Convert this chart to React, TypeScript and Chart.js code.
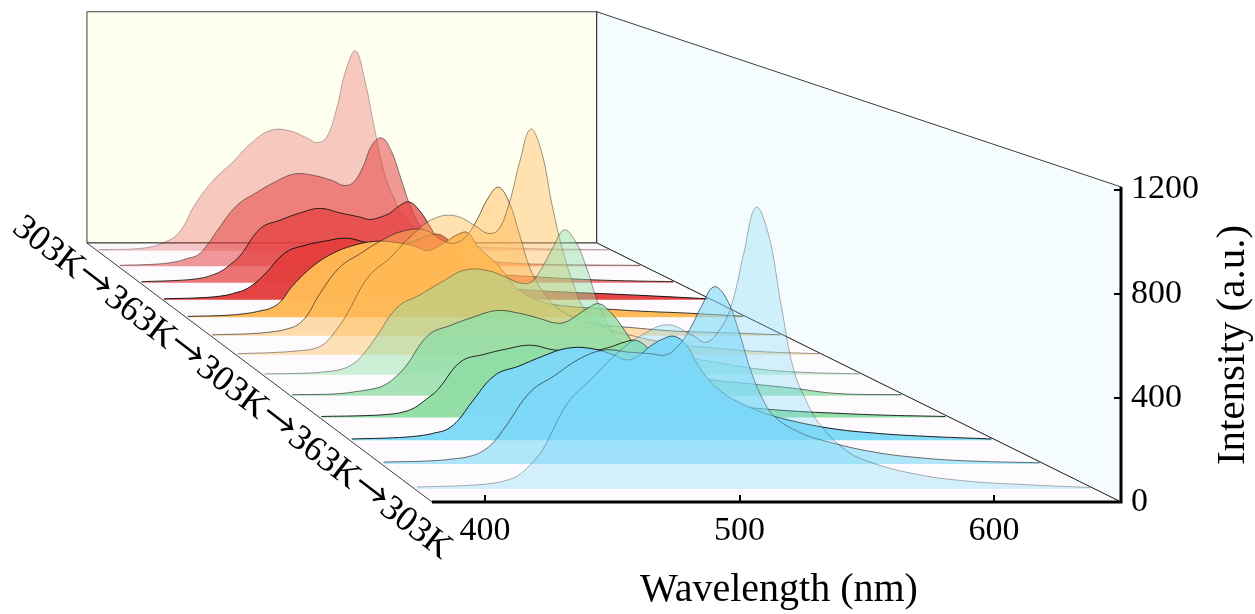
import React, { useEffect, useRef } from "react";
import { Chart, registerables } from "chart.js";

Chart.register(...registerables);

const wavelengths = [380, 400, 410, 415, 420, 425, 430, 440, 450, 460, 470, 480, 490, 495, 500, 505, 510, 515, 520, 525, 530, 535, 540, 550, 560, 580, 600, 620, 648];

const red1 = [5, 10, 25, 45, 70, 130, 225, 355, 445, 545, 610, 610, 570, 548, 580, 720, 920, 1015, 860, 620, 400, 270, 180, 80, 45, 20, 12, 8, 5];
const red2 = [5, 12, 25, 40, 55, 105, 175, 300, 365, 420, 460, 452, 425, 403, 415, 490, 605, 639, 570, 430, 290, 198, 145, 75, 40, 18, 10, 7, 5];
const red3 = [5, 12, 22, 35, 55, 90, 135, 265, 305, 340, 362, 340, 320, 308, 318, 338, 375, 393, 352, 280, 195, 130, 90, 55, 40, 28, 17, 10, 5];
const red4 = [4, 10, 20, 32, 48, 80, 125, 225, 260, 280, 293, 272, 262, 258, 268, 285, 305, 312, 285, 225, 160, 110, 80, 55, 45, 35, 27, 18, 4];
const orange1 = [4, 10, 20, 30, 42, 75, 140, 235, 298, 335, 354, 350, 330, 311, 325, 355, 385, 395, 330, 285, 240, 175, 125, 75, 55, 40, 28, 20, 5];
const orange2 = [4, 10, 20, 30, 48, 95, 180, 310, 375, 435, 477, 482, 428, 423, 455, 530, 625, 677, 610, 460, 305, 215, 150, 85, 55, 35, 20, 14, 4];
const orange3 = [5, 12, 20, 27, 50, 105, 175, 345, 430, 530, 605, 620, 572, 542, 556, 670, 860, 1006, 908, 665, 460, 310, 200, 120, 90, 50, 30, 15, 5];
const green1 = [4, 8, 16, 25, 48, 95, 160, 295, 348, 405, 455, 455, 420, 400, 403, 465, 555, 631, 583, 470, 320, 215, 150, 110, 90, 60, 28, 12, 4];
const green2 = [4, 8, 20, 28, 42, 75, 125, 258, 300, 335, 362, 350, 325, 310, 312, 340, 372, 391, 355, 295, 222, 160, 115, 90, 72, 52, 32, 9, 4];
const green3 = [4, 8, 14, 22, 40, 75, 115, 232, 262, 285, 300, 280, 277, 276, 282, 295, 312, 320, 290, 230, 165, 115, 85, 60, 45, 28, 18, 10, 4];
const blue1 = [5, 11, 20, 30, 44, 85, 150, 263, 300, 340, 372, 372, 345, 325, 340, 380, 408, 421, 388, 305, 240, 195, 165, 120, 89, 49, 28, 16, 5];
const blue2 = [8, 13, 22, 30, 48, 87, 150, 285, 350, 415, 450, 442, 435, 430, 462, 530, 625, 700, 655, 530, 370, 255, 185, 125, 92, 48, 24, 12, 5];
const blue3 = [8, 14, 22, 32, 50, 92, 150, 330, 428, 525, 595, 632, 590, 565, 605, 700, 900, 1085, 980, 710, 460, 340, 255, 155, 105, 55, 30, 18, 6];

// back row first, front row last
const seriesValues = [red1, red2, red3, red4, orange1, orange2, orange3, green1, green2, green3, blue1, blue2, blue3];
const seriesRgb = ["228,62,62", "228,62,62", "228,62,62", "228,62,62", "255,185,85", "255,185,85", "255,185,85", "145,221,165", "145,221,165", "145,221,165", "125,217,248", "125,217,248", "125,217,248"];
const fillAlpha = [0.28, 0.52, 0.72, 0.97, 0.97, 0.49, 0.42, 0.45, 0.8, 0.97, 0.97, 0.6, 0.33];
const lineAlpha = [0.3, 0.5, 0.85, 1, 0.85, 0.6, 0.42, 0.4, 0.6, 0.9, 0.95, 0.6, 0.32];

const xTickValues = [400, 500, 600];
const yTickValues = [0, 400, 800, 1200];
const sequenceLabel = "303K→363K→303K→363K→303K";
const xTitle = "Wavelength (nm)";
const yTitle = "Intensity (a.u.)";

const WL_MIN = 379.2;
const WL_MAX = 649.9;
const FLOOR_RISE = 994.6;
const BACK_SCALE = 0.74;
const PERSPECTIVE = 0.76;
const LEFT_SHIFT = 135.6;
const WALL_TOP = 1210;
const BACK_WALL_TOP = 1200;
const SERIES_GAIN = 1.011;

const perspective = (t: number) => t / (t + PERSPECTIVE * (1 - t));

function project(wl: number, intensity: number, t: number) {
  const f = perspective(t);
  const s = 1 - (1 - BACK_SCALE) * f;
  return { x: WL_MIN - LEFT_SHIFT * f + (wl - WL_MIN) * s, y: FLOOR_RISE * f + s * intensity };
}

function polygon(points: { x: number; y: number }[], fill: string, border: string, width = 1) {
  return {
    data: [...points, points[0]],
    fill: "shape",
    backgroundColor: fill,
    borderColor: border,
    borderWidth: width,
    pointRadius: 0,
    tension: 0,
    clip: false,
  };
}

function buildDatasets() {
  const layers: any[] = [];
  layers.push(
    polygon(
      [project(WL_MIN, 0, 1), project(WL_MIN, BACK_WALL_TOP, 1), project(WL_MAX, BACK_WALL_TOP, 1), project(WL_MAX, 0, 1)],
      "#FFFFF0",
      "rgba(40,40,40,0.9)"
    )
  );
  layers.push(
    polygon(
      [project(WL_MAX, 0, 1), project(WL_MAX, BACK_WALL_TOP, 1), project(WL_MAX, WALL_TOP, 0), project(WL_MAX, 0, 0)],
      "#F5FCFD",
      "rgba(40,40,40,0.9)"
    )
  );
  layers.push(
    polygon(
      [project(WL_MIN, 0, 1), project(WL_MAX, 0, 1), project(WL_MAX, 0, 0), project(WL_MIN, 0, 0)],
      "#FDFBFD",
      "rgba(40,40,40,0.9)"
    )
  );
  const n = seriesValues.length;
  seriesValues.forEach((values, i) => {
    const t = (n - 1 - i + 0.5) / n;
    layers.push({
      data: wavelengths.map((wl, k) => project(wl, values[k] * SERIES_GAIN, t)),
      fill: { value: FLOOR_RISE * perspective(t) },
      backgroundColor: `rgba(${seriesRgb[i]},${fillAlpha[i]})`,
      borderColor: `rgba(20,20,20,${lineAlpha[i]})`,
      borderWidth: 1,
      pointRadius: 0,
      tension: 0.4,
      clip: false,
    });
  });
  layers.push({
    data: [project(WL_MIN, 0, 0), project(WL_MAX, 0, 0), project(WL_MAX, WALL_TOP, 0)],
    fill: false,
    borderColor: "#000",
    borderWidth: 3,
    pointRadius: 0,
    tension: 0,
    clip: false,
  });
  // Chart.js paints the first dataset last
  return layers.reverse();
}

const textPlugin = {
  id: "sideTexts",
  afterDraw(chart: any) {
    const { ctx } = chart;
    ctx.save();
    ctx.fillStyle = "#000";
    ctx.textAlign = "center";
    ctx.textBaseline = "middle";
    ctx.font = '40px "Liberation Serif"';
    ctx.fillText(xTitle, 779, 590);
    ctx.save();
    ctx.translate(1233, 345);
    ctx.rotate(-Math.PI / 2);
    ctx.font = '41px "Liberation Serif"';
    ctx.fillText(yTitle, 0, 0);
    ctx.restore();
    ctx.save();
    ctx.translate(232, 388);
    ctx.rotate((37.4 * Math.PI) / 180);
    ctx.font = '35.8px SequenceArrow, "Liberation Serif"';
    ctx.fillText(sequenceLabel, 0, 0);
    ctx.restore();
    ctx.restore();
  },
};

function noPadding(s: any) {
  s.paddingTop = 0;
  s.paddingBottom = 0;
  s.paddingLeft = 0;
  s.paddingRight = 0;
}

const arrowFace = '@font-face{font-family:SequenceArrow;src:local("Noto Sans CJK SC"),local("NotoSansCJKsc-Regular"),local("DejaVu Sans");unicode-range:U+2192;}';

export default function App() {
  const ref = useRef<HTMLCanvasElement>(null);
  useEffect(() => {
    const chart = new Chart(ref.current as HTMLCanvasElement, {
      type: "line",
      data: { datasets: buildDatasets() },
      plugins: [textPlugin],
      options: {
        animation: false,
        responsive: false,
        layout: { padding: 0, autoPadding: false },
        plugins: { legend: { display: false }, tooltip: { enabled: false }, title: { display: false } },
        scales: {
          x: {
            type: "linear",
            min: 400 - 485 / 2.545,
            max: WL_MAX,
            afterFit(s: any) {
              s.height = 112;
              noPadding(s);
            },
            afterBuildTicks(s: any) {
              s.ticks = xTickValues.map((value) => ({ value }));
            },
            border: { display: false },
            grid: { drawOnChartArea: false, drawTicks: true, tickLength: -7, color: "#000", lineWidth: 2, z: 1 },
            ticks: {
              autoSkip: false,
              maxRotation: 0,
              padding: 16,
              color: "#000",
              font: { family: "Liberation Serif", size: 34 },
              callback: (v: any) => String(v),
            },
          },
          y: {
            type: "linear",
            position: "right",
            min: 0,
            max: 502 / (312.5 / 1200),
            afterFit(s: any) {
              s.width = 134;
              noPadding(s);
            },
            afterBuildTicks(s: any) {
              s.ticks = yTickValues.map((value) => ({ value }));
            },
            border: { display: false },
            grid: { drawOnChartArea: false, drawTicks: true, tickLength: -7, color: "#000", lineWidth: 2, z: 1 },
            ticks: {
              autoSkip: false,
              padding: 17,
              color: "#000",
              font: { family: "Liberation Serif", size: 34 },
              callback: (v: any) => String(v),
            },
          },
        },
      },
    } as any);
    let alive = true;
    document.fonts
      .load('35.8px SequenceArrow', "→")
      .catch(() => null)
      .then(() => {
        if (alive) chart.draw();
      });
    return () => {
      alive = false;
      chart.destroy();
    };
  }, []);
  return (
    <>
      <style>{arrowFace}</style>
      <canvas ref={ref} width={1255} height={614} style={{ position: "absolute", left: 0, top: 0, display: "block" }} />
    </>
  );
}
